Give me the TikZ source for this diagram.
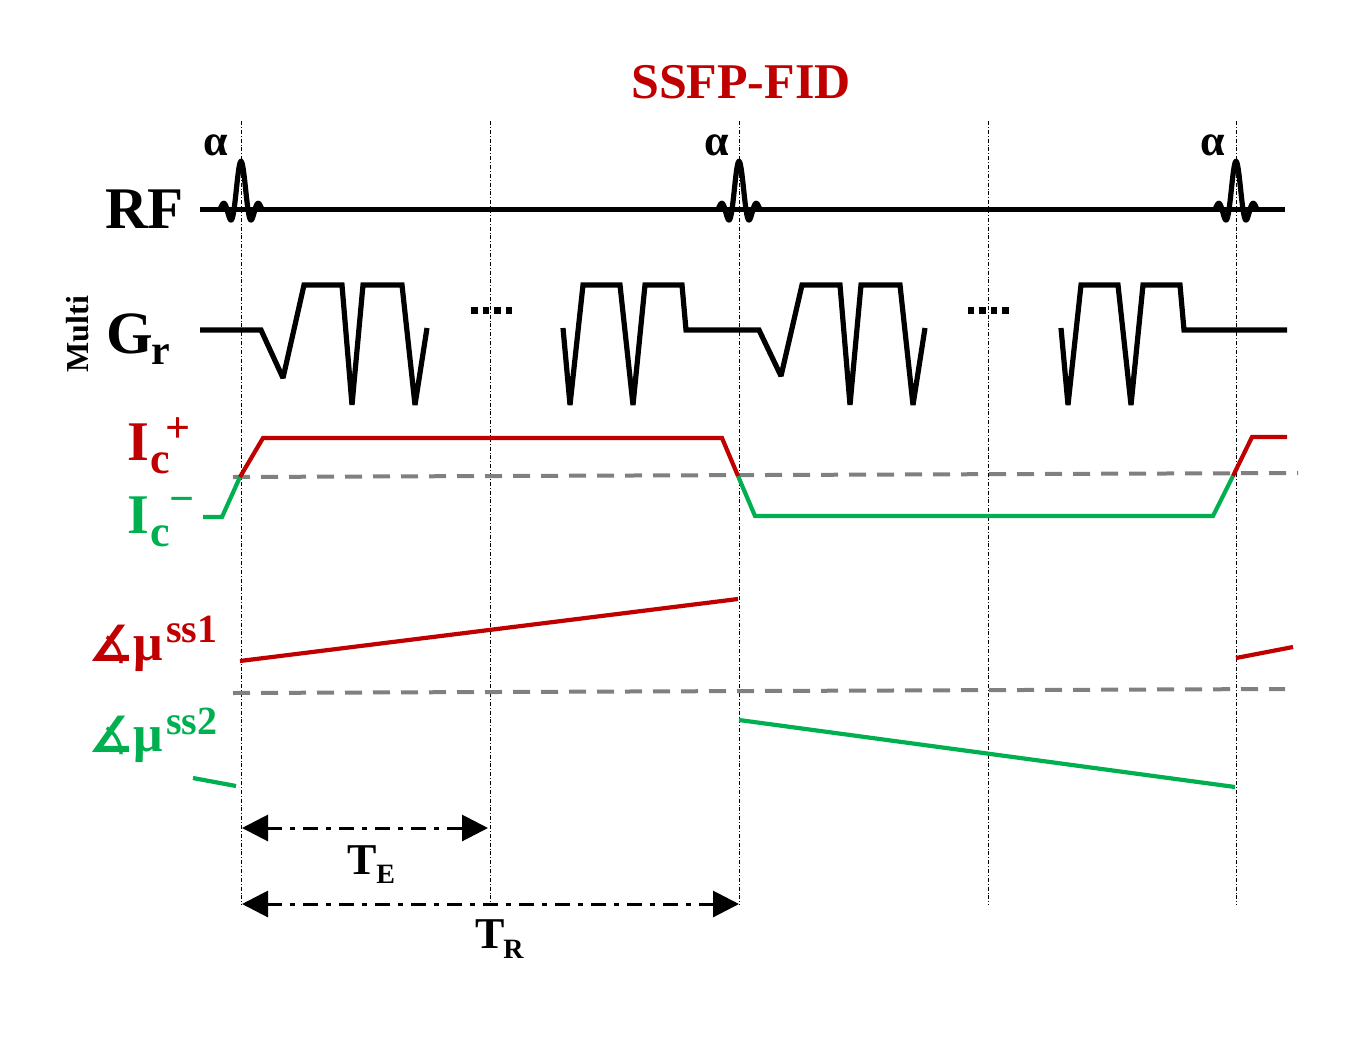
\documentclass[tikz,border=0pt]{standalone}
\usepackage{fontspec}
\setmainfont{Liberation Serif}
\newfontfamily\djv{DejaVu Sans}
\usetikzlibrary{arrows.meta}
\definecolor{ssred}{RGB}{192,0,0}
\definecolor{ssgreen}{RGB}{0,176,80}
\definecolor{ssgray}{RGB}{128,128,128}
\newcommand\myfs[1]{\fontsize{#1}{#1}\selectfont}
\begin{document}
\begin{tikzpicture}[x=0.5pt,y=-0.5pt,
  lbl/.style={inner sep=0pt,font=\bfseries},
  guide/.style={line width=0.5pt,dash pattern=on 2pt off 1pt on 0.4pt off 1pt},
  rfline/.style={line width=2.2pt},
  rfpulse/.style={line width=2.6pt,line cap=round},
  grline/.style={line width=2.6pt,miter limit=2},
  icred/.style={line width=2.1pt,ssred},
  icgreen/.style={line width=2.1pt,ssgreen},
  grayref/.style={line width=2pt,ssgray,dash pattern=on 8.5pt off 5.5pt},
  dimarrow/.style={line width=1.5pt,dash pattern=on 7.5pt off 4pt on 2.5pt off 4pt,
    {Triangle[length=13pt,width=13pt]}-{Triangle[length=13pt,width=13pt]}}
]
\useasboundingbox (0,0) rectangle (1350,1050);

% guide lines
\foreach \gx/\gn in {241.5/g1,490/g2,739/g3,988/g4,1236/g5}{
  \coordinate (\gn t) at (\gx,121);
  \coordinate (\gn b) at (\gx,905);
  \draw[guide] (\gn t) -- (\gn b);
}

% title
\node[lbl,anchor=base,text=ssred] (title) at (741,98) {\myfs{25}SSFP-FID};

% RF
\node[lbl,anchor=base west] (rf) at (105,228) {\myfs{29.5}RF};
\coordinate (rfs) at (200,209.5);
\coordinate (rfe) at (1285,209.5);
\draw[rfline] (rfs) -- (rfe);
\foreach \c/\ax in {241/216,739/717,1236/1213}{
  \draw[rfpulse] plot[domain=-3:3,samples=120] ({\c+7*\x},{209.5-48*sin(180*\x)/(pi*\x)});
  \node[lbl,anchor=base] at (\ax,155) {\myfs{22}α};
}

% Gr
\node[lbl,anchor=base,rotate=90] (multi) at (88,334) {\myfs{16}Multi};
\node[lbl,anchor=base west] (gG) at (106,353) {\myfs{30}G};
\node[lbl,anchor=base west] (gr) at (151,364) {\myfs{21}r};
\draw[grline] (200,330) -- (261,330) -- (283,378) -- (304,285) -- (342,285) -- (352,405)
  -- (363,285) -- (402,285) -- (415,405) -- (427,328);
\draw[grline] (563,328) -- (570,405) -- (583,285) -- (620,285) -- (633,405) -- (645,285)
  -- (682,285) -- (686,330) -- (759,330) -- (781,376) -- (802,285) -- (840,285) -- (850,405)
  -- (861,285) -- (900,285) -- (913,405) -- (925,328);
\draw[grline] (1061,328) -- (1068,405) -- (1081,285) -- (1118,285) -- (1131,405) -- (1143,285)
  -- (1180,285) -- (1184,330) -- (1287,330);
\foreach \dx in {474.5,486,497.5,509,971,982.5,994,1005.5}{
  \fill (\dx-3.2,306.5) rectangle (\dx+3.2,313.5);
}

% Ic
\draw[grayref] (233,477) -- (1298,473);
\node[lbl,anchor=base west,text=ssred] (ip) at (127,460) {\myfs{28}I};
\node[lbl,anchor=base west,text=ssred] at (150,473) {\myfs{22}c};
\node[lbl,text=ssred] at (178,430) {\myfs{22}+};
\node[lbl,anchor=base west,text=ssgreen] (im) at (127,533) {\myfs{28}I};
\node[lbl,anchor=base west,text=ssgreen] at (150,546) {\myfs{22}c};
\node[lbl,text=ssgreen] at (182,505) {\myfs{22}−};
\draw[icgreen] (203,517) -- (222,517) -- (240,477);
\draw[icgreen] (738,476) -- (755,516) -- (1213,516) -- (1233,476);
\draw[icred] (240,477) -- (263,438) -- (722,438) -- (738,476);
\draw[icred] (1233,476) -- (1252,437) -- (1287,437);

% mu
\draw[grayref] (233,693) -- (1285,689);
\node[lbl,anchor=base west,text=ssred] (a1) at (88,661) {\myfs{25}\djv\bfseries ∡};
\node[lbl,anchor=base west,text=ssred] (m1) at (133,660) {\myfs{26}μ};
\node[lbl,anchor=base west,text=ssred] (s1) at (166,642) {\myfs{20}ss1};
\node[lbl,anchor=base west,text=ssgreen] (a2) at (88,752) {\myfs{25}\djv\bfseries ∡};
\node[lbl,anchor=base west,text=ssgreen] (m2) at (133,751) {\myfs{26}μ};
\node[lbl,anchor=base west,text=ssgreen] (s2) at (166,734) {\myfs{20}ss2};
\draw[icred] (240,661) -- (738,599);
\draw[icred] (1236,658) -- (1293,647);
\draw[icgreen] (193,778) -- (236,786);
\draw[icgreen] (739,720) -- (1235,787);

% timing
\coordinate (te1) at (242,828);
\coordinate (te2) at (488,828);
\coordinate (tr1) at (242,904);
\coordinate (tr2) at (739,904);
\draw[dimarrow] (te1) -- (te2);
\draw[dimarrow] (tr1) -- (tr2);
\node[lbl,anchor=base west] (tT) at (347,874) {\myfs{22}T};
\node[lbl,anchor=base west] at (376,883) {\myfs{14}E};
\node[lbl,anchor=base west] (rT) at (475,948) {\myfs{22}T};
\node[lbl,anchor=base west] at (503,958) {\myfs{14}R};
\end{tikzpicture}
\end{document}
